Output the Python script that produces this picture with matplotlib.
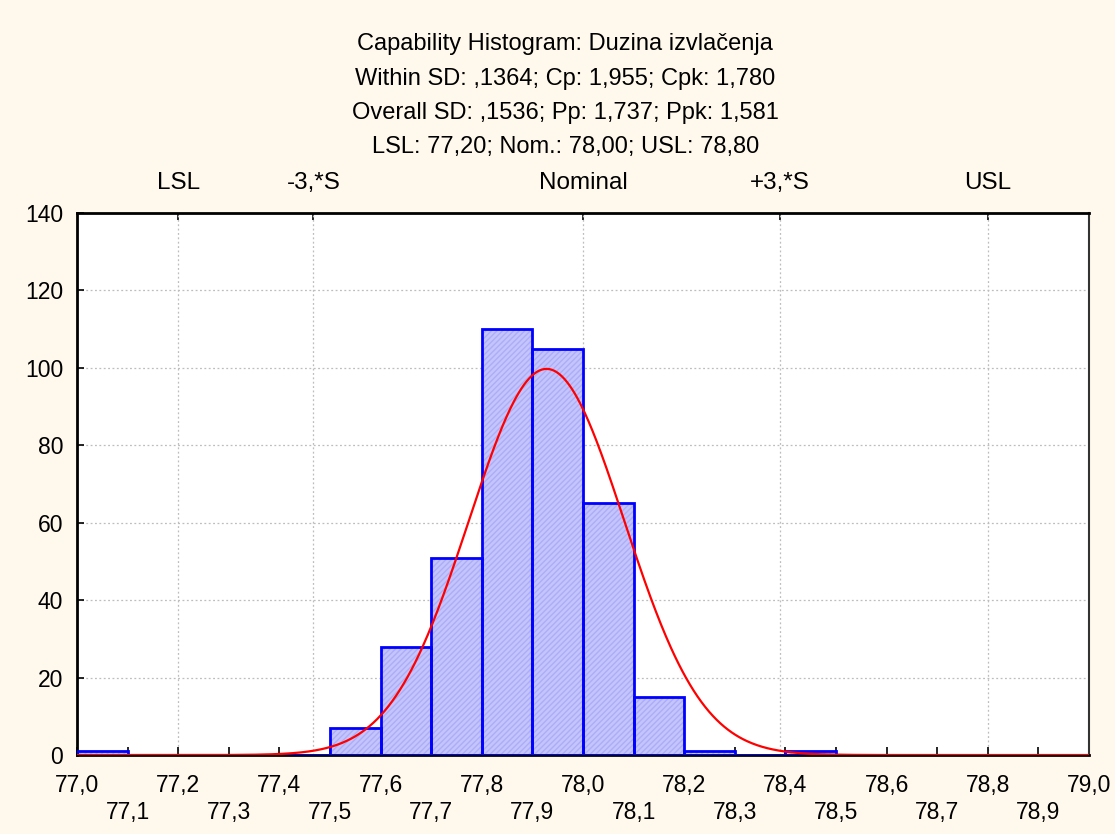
import numpy as np
import matplotlib
matplotlib.use("Agg")
import matplotlib.pyplot as plt

plt.rcParams['font.family'] = ['Liberation Sans', 'DejaVu Sans']

# Histogram of measured lengths (bin left edges, width 0.1)
bin_lefts = [77.0, 77.1, 77.2, 77.3, 77.4, 77.5, 77.6, 77.7, 77.8, 77.9,
             78.0, 78.1, 78.2, 78.3, 78.4, 78.5, 78.6, 78.7, 78.8, 78.9]
counts = [1, 0, 0, 0, 0, 7, 28, 51, 110, 105,
          65, 15, 1, 0, 1, 0, 0, 0, 0, 0]
bin_width = 0.1

# Process statistics
mean_val = 77.928
overall_sd = 0.1536
lsl, nominal, usl = 77.20, 78.00, 78.80

title_lines = [
    "Capability Histogram: Duzina izvlačenja",
    "Within SD: ,1364; Cp: 1,955; Cpk: 1,780",
    "Overall SD: ,1536; Pp: 1,737; Ppk: 1,581",
    "LSL: 77,20; Nom.: 78,00; USL: 78,80",
]
marker_names = ["LSL", "-3,*S", "Nominal", "+3,*S", "USL"]
marker_values = [lsl, mean_val - 3 * overall_sd, nominal,
                 mean_val + 3 * overall_sd, usl]

x_ticks = [round(77.0 + 0.1 * i, 1) for i in range(21)]
y_ticks = [0, 20, 40, 60, 80, 100, 120, 140]

fig = plt.figure(figsize=(11.15, 8.34), dpi=100, facecolor='#FFF9ED')
ax = fig.add_axes([0.069, 0.0947, 0.9077, 0.6499])
ax.set_facecolor('white')

# Bars: hatched light fill, then a blue outline on top
ax.bar(bin_lefts, counts, width=bin_width, align='edge',
       color='#C4C4FF', edgecolor='#ADADF4', hatch='//////', linewidth=0, zorder=2)
ax.bar(bin_lefts, counts, width=bin_width, align='edge',
       fill=False, edgecolor='#0000FF', linewidth=2, zorder=3)

# Fitted normal curve scaled to counts
n_total = sum(counts)
xs = np.linspace(77.0, 79.0, 800)
ys = n_total * bin_width / (overall_sd * np.sqrt(2 * np.pi)) * \
    np.exp(-0.5 * ((xs - mean_val) / overall_sd) ** 2)
ax.plot(xs, ys, color='#FF0000', linewidth=1.6, zorder=4)

ax.set_xlim(77.0, 79.0)
ax.set_ylim(0, 140)

# Y axis
ax.set_yticks(y_ticks)
ax.set_yticklabels([str(v) for v in y_ticks], fontsize=16.5)
ax.tick_params(axis='y', direction='in', length=5, width=1.2, pad=10)
ax.yaxis.grid(True, linestyle=(0, (1.5, 2)), color='#BDBDBD', linewidth=0.9)

# X axis: even tenths on first row, odd tenths on second row
even = [v for i, v in enumerate(x_ticks) if i % 2 == 0]
odd = [v for i, v in enumerate(x_ticks) if i % 2 == 1]
ax.set_xticks(even)
ax.set_xticklabels([f"{v:.1f}".replace('.', ',') for v in even], fontsize=16.5)
ax.set_xticks(odd, minor=True)
ax.set_xticklabels([f"{v:.1f}".replace('.', ',') for v in odd], minor=True, fontsize=16.5)
ax.tick_params(axis='x', which='major', direction='in', length=6, width=1.2, pad=14)
ax.tick_params(axis='x', which='minor', direction='in', length=6, width=1.2, pad=33)

# Top axis with specification markers
top = ax.secondary_xaxis('top')
top.set_xticks(marker_values)
top.set_xticklabels(marker_names, fontsize=17.5)
top.tick_params(direction='in', length=5, width=1.2, pad=14)
top.spines['top'].set_visible(False)
for v in marker_values:
    ax.axvline(v, linestyle=(0, (1.5, 2)), color='#BDBDBD', linewidth=0.9, zorder=1)

for side in ['left', 'bottom', 'top']:
    ax.spines[side].set_linewidth(2)
    ax.spines[side].set_color('black')
ax.spines['right'].set_linewidth(1.5)
ax.spines['right'].set_color('#333333')

# Title block
for i, line in enumerate(title_lines):
    fig.text(0.507, 1 - (44 + i * 34.5) / 834, line, ha='center', va='center',
             fontsize=17)

fig.savefig("out.png", dpi=100, facecolor=fig.get_facecolor())
